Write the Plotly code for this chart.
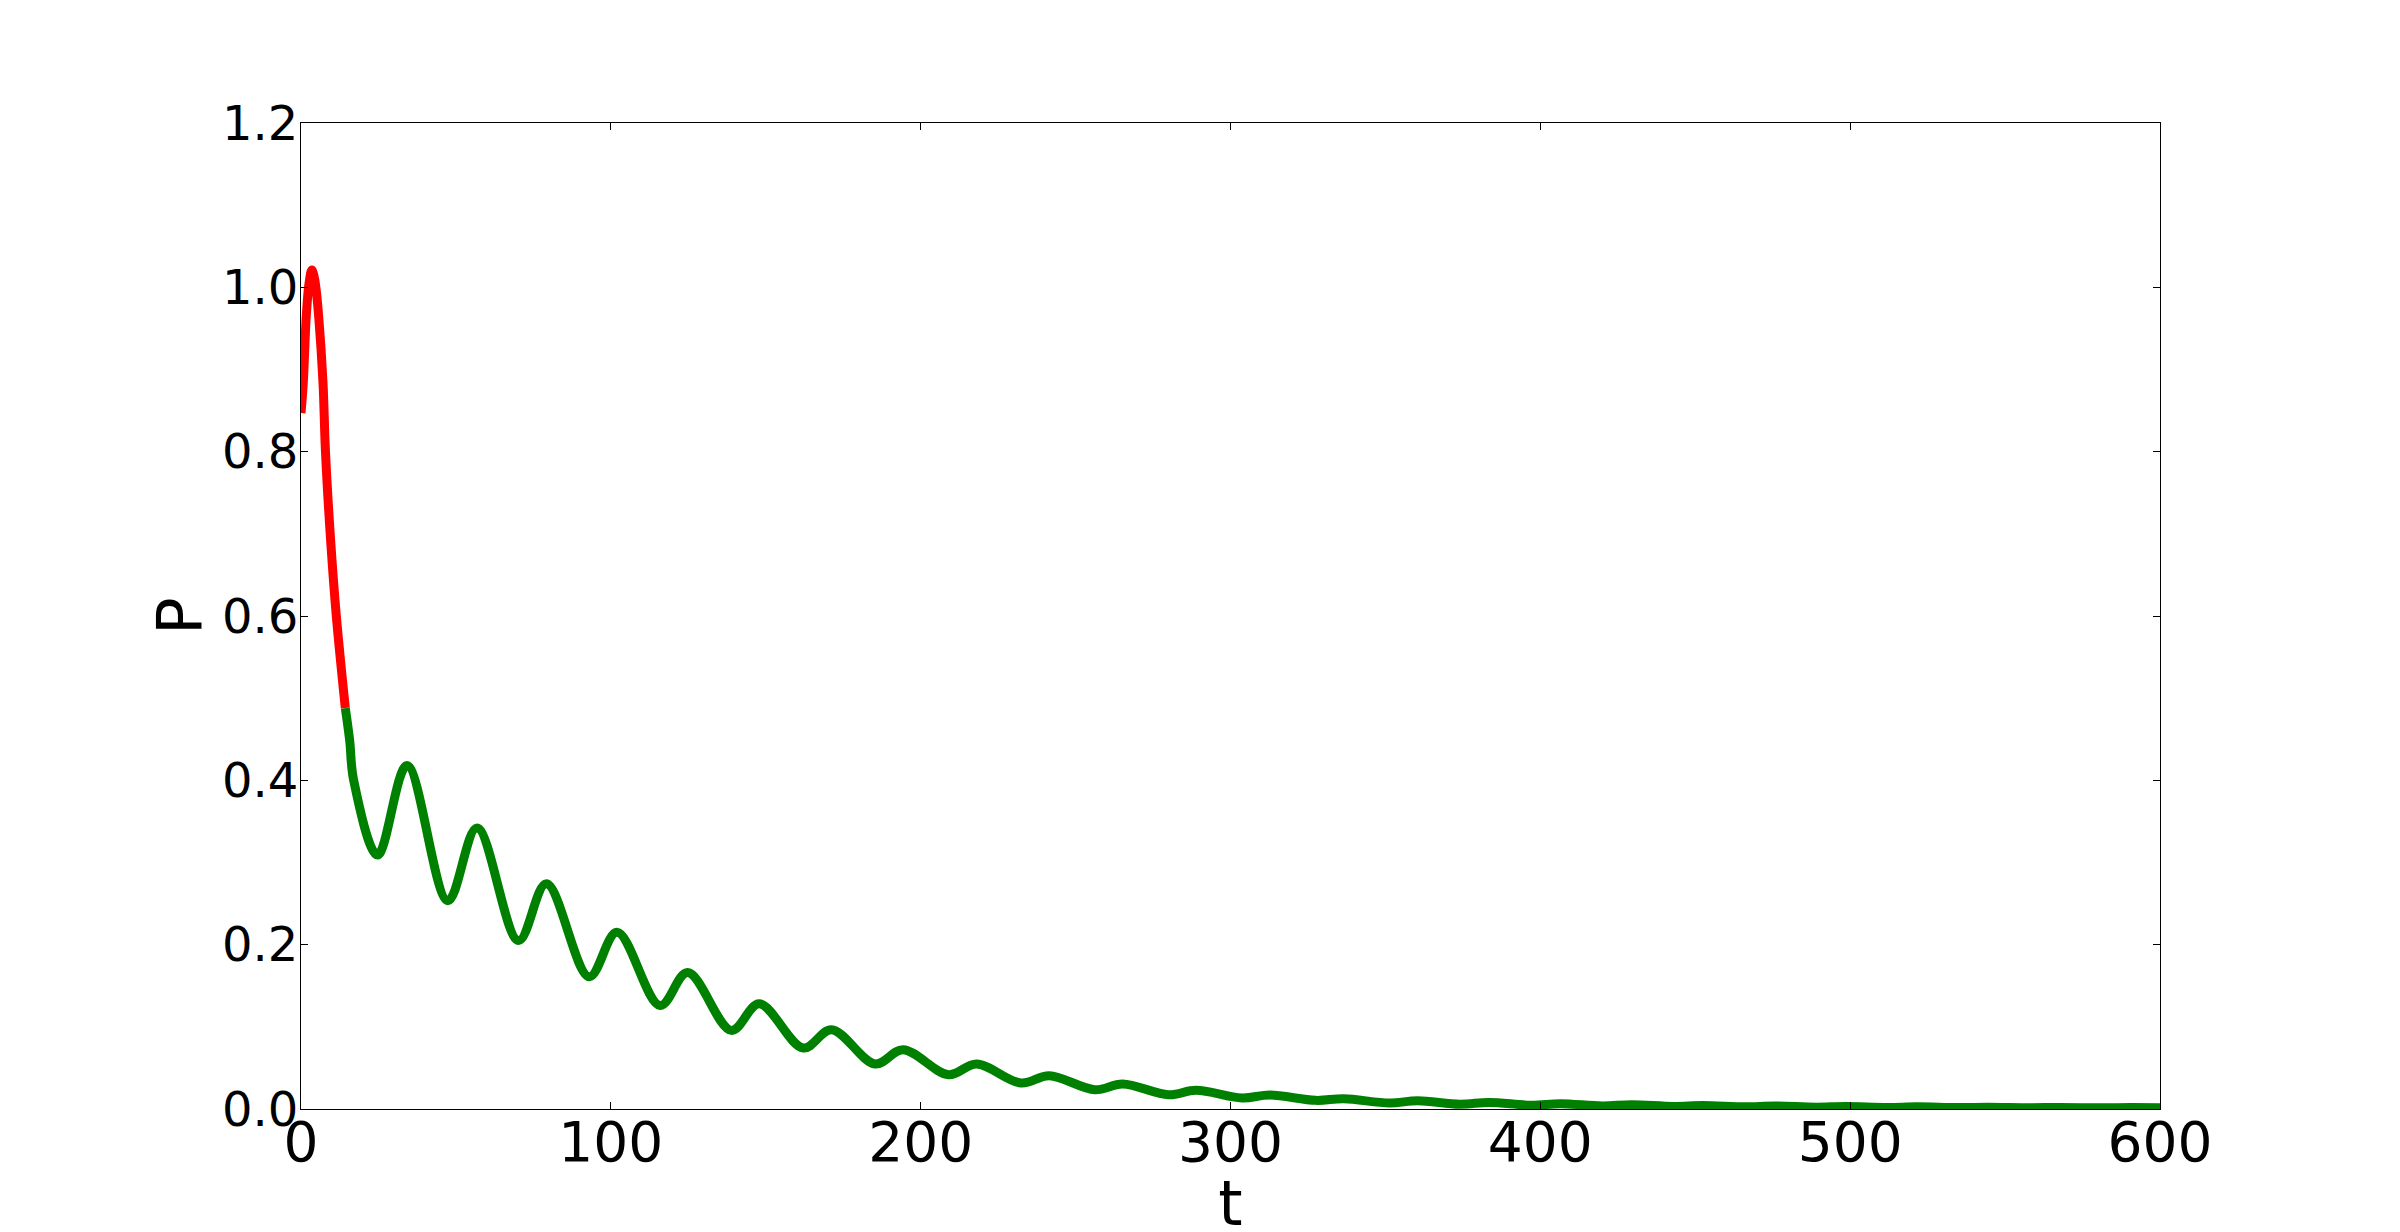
"""
Decay of P(t) with damped oscillations: red early transient, green tail.
"""

import plotly.graph_objects as go

# early transient (red)
red_t = [0.0, 0.74, 1.7, 2.6, 3.5, 4.3, 4.8, 5.7, 7.1, 7.9, 9.6, 11.4, 14.3]
red_p = [0.847, 0.884, 0.965, 1.005, 1.021, 1.012, 1.0, 0.965, 0.884, 0.80, 0.69, 0.60, 0.488]

# damped oscillating tail (green)
green_t = [
    14.3, 15.7, 17.0, 24.7, 34.2, 47.4, 56.8, 70.2, 79.2, 93.0, 102.0,
    115.9, 124.8, 138.9, 147.9, 162.1, 171.2, 185.3, 194.3, 209.0, 218.0,
    232.4, 241.5, 256.2, 265.2, 280.0, 288.9, 303.7, 312.7, 327.5, 336.6,
    351.3, 360.4, 374.0, 383.5, 397.0, 406.5, 420.0, 429.5, 443.0, 452.5,
    466.0, 475.5, 489.0, 498.5, 512.0, 521.5, 535.0, 544.5, 558.0, 567.5,
    581.0, 590.5, 600.0,
]
green_p = [
    0.488, 0.449, 0.40, 0.309, 0.418, 0.2535, 0.342, 0.205, 0.274, 0.161, 0.215,
    0.126, 0.166, 0.0957, 0.128, 0.0742, 0.0965, 0.0548, 0.0722, 0.0417, 0.0548,
    0.0316, 0.0405, 0.0235, 0.0304, 0.0174, 0.0227, 0.0134, 0.0170, 0.0105, 0.0125,
    0.0073, 0.0101, 0.0058, 0.0080, 0.0046, 0.0064, 0.0037, 0.0052, 0.0031, 0.0043,
    0.0026, 0.0036, 0.0022, 0.0030, 0.0019, 0.0026, 0.0017, 0.0022, 0.0015, 0.0019,
    0.0014, 0.0017, 0.0015,
]

x_ticks = [0, 100, 200, 300, 400, 500, 600]
y_ticks = [0.0, 0.2, 0.4, 0.6, 0.8, 1.0, 1.2]

FONT = "DejaVu Sans"

fig = go.Figure()

fig.add_trace(
    go.Scatter(
        x=green_t,
        y=green_p,
        mode="lines",
        line=dict(color="#008000", width=9, shape="spline", smoothing=1.0),
        showlegend=False,
    )
)
fig.add_trace(
    go.Scatter(
        x=red_t,
        y=red_p,
        mode="lines",
        line=dict(color="#ff0000", width=9, shape="spline", smoothing=1.0),
        showlegend=False,
    )
)

axis_common = dict(
    showgrid=False,
    zeroline=False,
    showline=True,
    linecolor="black",
    linewidth=1,
    mirror="allticks",
    ticks="inside",
    ticklen=7,
    tickwidth=1,
    tickcolor="black",
    automargin=False,
)

fig.update_layout(
    template="none",
    width=2400,
    height=1232,
    # page body adds an 8px offset, so margins are shifted to compensate
    margin=dict(l=293, r=248, t=115, b=131),
    paper_bgcolor="white",
    plot_bgcolor="white",
    font=dict(family=FONT, color="black"),
    xaxis=dict(
        range=[0, 600],
        tickvals=x_ticks,
        ticktext=[str(v) for v in x_ticks],
        tickfont=dict(family=FONT, size=55, color="black"),
        ticklabelstandoff=-15,
        title=dict(text="t", font=dict(family=FONT, size=62), standoff=14),
        **axis_common,
    ),
    yaxis=dict(
        range=[0, 1.2],
        tickvals=y_ticks,
        ticktext=[f"{v:.1f}" for v in y_ticks],
        tickfont=dict(family=FONT, size=48, color="black"),
        ticklabelstandoff=-8,
        title=dict(text="P", font=dict(family=FONT, size=62), standoff=0),
        **axis_common,
    ),
)

fig.write_html("out.html")
